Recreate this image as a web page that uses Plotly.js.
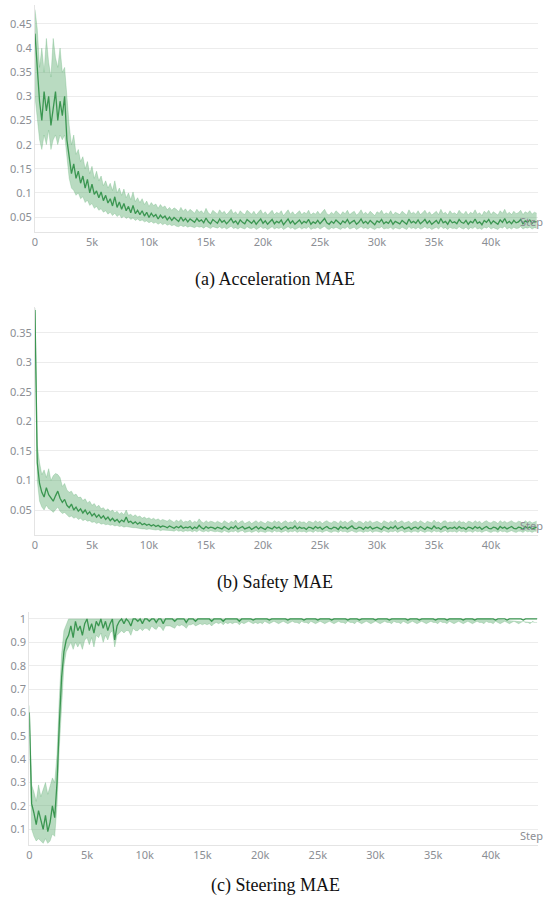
<!DOCTYPE html>
<html>
<head>
<meta charset="utf-8">
<script src="https://cdn.plot.ly/plotly-3.0.1.min.js"></script>
<style>html,body{margin:0;padding:0;background:#fff;}#chart{width:550px;height:905px;}</style>
</head>
<body>
<div id="chart"></div>
<script>
// Sampling step of the logged curves (training steps)
const STEP = 200;
const N_POINTS = 221;

// Panel captions
const captions = ["(a) Acceleration MAE", "(b) Safety MAE", "(c) Steering MAE"];

// Tick labels
const xTickVals = [0, 5000, 10000, 15000, 20000, 25000, 30000, 35000, 40000];
const xTickText = ["0", "5k", "10k", "15k", "20k", "25k", "30k", "35k", "40k"];
const yTickA = [0.05, 0.1, 0.15, 0.2, 0.25, 0.3, 0.35, 0.4, 0.45];
const yTickB = [0.05, 0.1, 0.15, 0.2, 0.25, 0.3, 0.35];
const yTickC = [0.1, 0.2, 0.3, 0.4, 0.5, 0.6, 0.7, 0.8, 0.9, 1];

// (a) Acceleration MAE
const accMean = [
0.43,0.35,0.29,0.25,0.31,0.27,0.30,0.24,0.28,0.31,
0.25,0.29,0.26,0.30,0.21,0.17,0.14,0.16,0.13,0.145,
0.12,0.135,0.11,0.128,0.10,0.118,0.097,0.104,0.09,0.102,
0.084,0.095,0.079,0.088,0.073,0.092,0.07,0.081,0.066,0.078,
0.063,0.072,0.059,0.074,0.057,0.064,0.055,0.063,0.052,0.06,
0.049,0.058,0.051,0.055,0.046,0.054,0.048,0.052,0.044,0.05,
0.043,0.049,0.045,0.041,0.05,0.042,0.047,0.04,0.046,0.043,
0.039,0.047,0.041,0.044,0.038,0.048,0.04,0.036,0.045,0.041,
0.037,0.046,0.039,0.043,0.036,0.041,0.047,0.038,0.042,0.035,
0.044,0.039,0.036,0.045,0.04,0.037,0.043,0.035,0.041,0.046,
0.037,0.042,0.035,0.039,0.045,0.036,0.041,0.038,0.044,0.034,
0.04,0.046,0.037,0.042,0.035,0.039,0.044,0.036,0.041,0.038,
0.045,0.035,0.04,0.037,0.043,0.036,0.042,0.047,0.038,0.035,
0.041,0.037,0.044,0.039,0.035,0.042,0.038,0.045,0.036,0.04,
0.043,0.035,0.039,0.046,0.037,0.041,0.036,0.043,0.038,0.034,
0.042,0.039,0.045,0.036,0.04,0.037,0.044,0.035,0.041,0.038,
0.036,0.043,0.039,0.035,0.046,0.038,0.041,0.037,0.044,0.036,
0.04,0.045,0.037,0.042,0.035,0.039,0.043,0.036,0.047,0.038,
0.041,0.035,0.044,0.038,0.04,0.036,0.045,0.039,0.037,0.043,
0.035,0.041,0.038,0.046,0.037,0.04,0.034,0.043,0.039,0.045,
0.036,0.042,0.038,0.035,0.044,0.039,0.047,0.037,0.041,0.036,
0.043,0.038,0.04,0.045,0.036,0.042,0.039,0.044,0.037,0.041,
0.04];
const accLow = [
0.30,0.25,0.21,0.19,0.22,0.2,0.23,0.19,0.21,0.22,
0.2,0.22,0.21,0.22,0.17,0.13,0.11,0.105,0.095,0.1,
0.088,0.092,0.08,0.085,0.074,0.078,0.068,0.072,0.064,0.067,
0.06,0.063,0.056,0.06,0.053,0.058,0.051,0.055,0.048,0.052,
0.047,0.05,0.045,0.048,0.043,0.046,0.042,0.044,0.04,0.042,
0.038,0.041,0.037,0.039,0.035,0.038,0.034,0.037,0.033,0.035,
0.032,0.034,0.031,0.03,0.033,0.03,0.032,0.029,0.031,0.03,
0.028,0.031,0.029,0.03,0.027,0.031,0.028,0.026,0.03,0.028,
0.027,0.03,0.026,0.029,0.025,0.028,0.031,0.026,0.028,0.025,
0.029,0.027,0.025,0.03,0.027,0.026,0.029,0.024,0.028,0.03,
0.026,0.028,0.024,0.027,0.03,0.025,0.028,0.026,0.029,0.024,
0.027,0.03,0.026,0.028,0.024,0.027,0.029,0.025,0.028,0.026,
0.03,0.024,0.027,0.026,0.029,0.025,0.028,0.031,0.026,0.024,
0.028,0.026,0.029,0.027,0.024,0.028,0.026,0.03,0.025,0.027,
0.029,0.024,0.027,0.03,0.026,0.028,0.025,0.029,0.026,0.024,
0.028,0.027,0.03,0.025,0.027,0.026,0.029,0.024,0.028,0.026,
0.025,0.029,0.027,0.024,0.03,0.026,0.028,0.025,0.029,0.025,
0.027,0.03,0.026,0.028,0.024,0.027,0.029,0.025,0.031,0.026,
0.028,0.024,0.029,0.026,0.027,0.025,0.03,0.027,0.025,0.029,
0.024,0.028,0.026,0.03,0.025,0.027,0.024,0.029,0.027,0.03,
0.025,0.028,0.026,0.024,0.029,0.027,0.031,0.025,0.028,0.025,
0.029,0.026,0.027,0.03,0.025,0.028,0.027,0.029,0.025,0.028,
0.027];
const accHigh = [
0.48,0.44,0.36,0.40,0.35,0.42,0.37,0.34,0.42,0.38,
0.36,0.40,0.35,0.36,0.30,0.24,0.20,0.22,0.18,0.19,
0.165,0.175,0.15,0.165,0.14,0.155,0.13,0.145,0.125,0.135,
0.115,0.125,0.11,0.12,0.105,0.125,0.1,0.11,0.095,0.108,
0.09,0.1,0.086,0.102,0.082,0.09,0.08,0.088,0.076,0.083,
0.072,0.08,0.074,0.077,0.068,0.076,0.07,0.073,0.065,0.07,
0.064,0.069,0.066,0.061,0.07,0.062,0.067,0.06,0.066,0.062,
0.058,0.066,0.06,0.063,0.057,0.068,0.059,0.055,0.064,0.06,
0.056,0.065,0.058,0.062,0.055,0.06,0.066,0.057,0.061,0.054,
0.063,0.058,0.055,0.064,0.059,0.056,0.062,0.054,0.06,0.065,
0.056,0.061,0.054,0.058,0.064,0.055,0.06,0.057,0.063,0.053,
0.059,0.065,0.056,0.061,0.054,0.058,0.063,0.055,0.06,0.057,
0.064,0.054,0.059,0.056,0.062,0.055,0.061,0.066,0.057,0.054,
0.06,0.056,0.063,0.058,0.054,0.061,0.057,0.064,0.055,0.059,
0.062,0.054,0.058,0.065,0.056,0.06,0.055,0.062,0.057,0.053,
0.061,0.058,0.064,0.055,0.059,0.056,0.063,0.054,0.06,0.057,
0.055,0.062,0.058,0.054,0.065,0.057,0.06,0.056,0.063,0.055,
0.059,0.064,0.056,0.061,0.054,0.058,0.062,0.055,0.066,0.057,
0.06,0.054,0.063,0.057,0.059,0.055,0.064,0.058,0.056,0.062,
0.054,0.06,0.057,0.065,0.056,0.059,0.053,0.062,0.058,0.064,
0.055,0.061,0.057,0.054,0.063,0.058,0.066,0.056,0.06,0.055,
0.062,0.057,0.059,0.064,0.055,0.061,0.058,0.063,0.056,0.06,
0.058];

// (b) Safety MAE
const safMean = [
0.389,0.13,0.095,0.08,0.072,0.088,0.076,0.07,0.065,0.074,
0.082,0.07,0.063,0.068,0.058,0.054,0.06,0.05,0.055,0.048,
0.052,0.045,0.05,0.043,0.047,0.04,0.044,0.038,0.042,0.036,
0.04,0.034,0.038,0.032,0.036,0.031,0.034,0.029,0.033,0.03,
0.038,0.029,0.031,0.027,0.03,0.026,0.029,0.025,0.027,0.024,
0.026,0.023,0.025,0.022,0.024,0.021,0.023,0.022,0.02,0.023,
0.021,0.019,0.022,0.02,0.023,0.019,0.021,0.02,0.022,0.018,
0.021,0.019,0.024,0.02,0.018,0.022,0.019,0.021,0.02,0.018,
0.021,0.019,0.018,0.022,0.02,0.017,0.021,0.019,0.023,0.018,
0.02,0.022,0.018,0.019,0.021,0.017,0.02,0.022,0.018,0.021,
0.019,0.017,0.021,0.02,0.018,0.022,0.019,0.021,0.017,0.02,
0.022,0.018,0.02,0.019,0.023,0.018,0.021,0.019,0.02,0.017,
0.021,0.02,0.018,0.022,0.019,0.021,0.017,0.02,0.022,0.019,
0.018,0.021,0.02,0.017,0.022,0.019,0.021,0.018,0.02,0.023,
0.019,0.018,0.021,0.02,0.017,0.021,0.019,0.022,0.018,0.02,
0.021,0.019,0.017,0.022,0.02,0.018,0.021,0.019,0.023,0.018,
0.02,0.022,0.018,0.019,0.021,0.017,0.02,0.021,0.018,0.022,
0.019,0.017,0.021,0.02,0.018,0.023,0.019,0.02,0.017,0.021,
0.022,0.018,0.02,0.019,0.021,0.018,0.022,0.019,0.02,0.017,
0.021,0.02,0.018,0.022,0.019,0.021,0.017,0.02,0.022,0.019,
0.018,0.021,0.02,0.017,0.022,0.019,0.021,0.018,0.02,0.022,
0.019,0.018,0.021,0.02,0.017,0.022,0.019,0.021,0.018,0.02,
0.021];
const safLow = [
0.385,0.1,0.065,0.055,0.05,0.058,0.052,0.05,0.046,0.05,
0.055,0.048,0.044,0.046,0.041,0.038,0.04,0.036,0.038,0.034,
0.036,0.032,0.034,0.031,0.032,0.029,0.03,0.027,0.029,0.026,
0.027,0.025,0.026,0.024,0.025,0.023,0.024,0.022,0.023,0.021,
0.022,0.021,0.021,0.02,0.02,0.019,0.019,0.018,0.018,0.017,
0.018,0.017,0.017,0.016,0.017,0.015,0.016,0.016,0.015,0.016,
0.015,0.014,0.016,0.014,0.015,0.013,0.015,0.014,0.015,0.013,
0.015,0.013,0.016,0.014,0.013,0.015,0.013,0.015,0.014,0.013,
0.014,0.013,0.012,0.015,0.014,0.012,0.014,0.013,0.015,0.012,
0.014,0.015,0.012,0.013,0.014,0.012,0.014,0.015,0.012,0.014,
0.013,0.012,0.014,0.014,0.012,0.015,0.013,0.014,0.012,0.014,
0.015,0.012,0.014,0.013,0.015,0.012,0.014,0.013,0.014,0.012,
0.014,0.014,0.012,0.015,0.013,0.014,0.012,0.014,0.015,0.013,
0.012,0.014,0.014,0.012,0.015,0.013,0.014,0.012,0.014,0.015,
0.013,0.012,0.014,0.014,0.012,0.014,0.013,0.015,0.012,0.014,
0.014,0.013,0.012,0.015,0.014,0.012,0.014,0.013,0.015,0.012,
0.014,0.015,0.012,0.013,0.014,0.012,0.014,0.014,0.012,0.015,
0.013,0.012,0.014,0.014,0.012,0.015,0.013,0.014,0.012,0.014,
0.015,0.012,0.014,0.013,0.014,0.012,0.015,0.013,0.014,0.012,
0.014,0.014,0.012,0.015,0.013,0.014,0.012,0.014,0.015,0.013,
0.012,0.014,0.014,0.012,0.015,0.013,0.014,0.012,0.014,0.015,
0.013,0.012,0.014,0.014,0.012,0.015,0.013,0.014,0.012,0.014,
0.014];
const safHigh = [
0.392,0.16,0.13,0.11,0.118,0.105,0.12,0.1,0.108,0.112,
0.11,0.105,0.09,0.095,0.084,0.08,0.082,0.075,0.077,0.071,
0.072,0.066,0.069,0.062,0.065,0.058,0.061,0.055,0.058,0.052,
0.054,0.049,0.052,0.047,0.05,0.045,0.048,0.043,0.046,0.042,
0.05,0.041,0.043,0.039,0.042,0.038,0.04,0.036,0.038,0.035,
0.037,0.034,0.036,0.033,0.035,0.032,0.034,0.033,0.031,0.034,
0.032,0.029,0.033,0.03,0.034,0.029,0.031,0.03,0.033,0.028,
0.031,0.029,0.035,0.03,0.028,0.032,0.029,0.031,0.03,0.028,
0.031,0.029,0.027,0.032,0.03,0.027,0.031,0.029,0.033,0.027,
0.03,0.032,0.027,0.029,0.031,0.027,0.03,0.032,0.028,0.031,
0.029,0.027,0.031,0.03,0.028,0.032,0.029,0.031,0.027,0.03,
0.032,0.028,0.03,0.029,0.033,0.027,0.031,0.029,0.03,0.027,
0.031,0.03,0.028,0.032,0.029,0.031,0.027,0.03,0.032,0.029,
0.028,0.031,0.03,0.027,0.032,0.029,0.031,0.028,0.03,0.033,
0.029,0.028,0.031,0.03,0.027,0.031,0.029,0.032,0.028,0.03,
0.031,0.029,0.027,0.032,0.03,0.028,0.031,0.029,0.033,0.028,
0.03,0.032,0.028,0.029,0.031,0.027,0.03,0.031,0.028,0.032,
0.029,0.027,0.031,0.03,0.028,0.033,0.029,0.03,0.027,0.031,
0.032,0.028,0.03,0.029,0.031,0.028,0.032,0.029,0.03,0.027,
0.031,0.03,0.028,0.032,0.029,0.031,0.027,0.03,0.032,0.029,
0.028,0.031,0.03,0.027,0.032,0.029,0.031,0.028,0.03,0.032,
0.029,0.028,0.031,0.03,0.027,0.032,0.029,0.031,0.028,0.03,
0.031];

// (c) Steering MAE
const steMean = [
0.60,0.21,0.17,0.12,0.18,0.14,0.10,0.16,0.09,0.13,
0.20,0.15,0.30,0.55,0.75,0.86,0.91,0.93,0.97,0.92,
0.99,0.95,0.97,0.93,0.98,1.0,0.95,0.98,0.94,0.99,
0.97,1.0,0.96,0.99,0.95,0.98,1.0,0.91,0.97,0.99,
1.0,0.98,1.0,0.99,0.97,1.0,1.0,0.99,1.0,0.98,
1.0,1.0,0.99,1.0,1.0,0.985,1.0,1.0,0.98,1.0,
1.0,1.0,1.0,0.99,1.0,1.0,1.0,1.0,0.985,1.0,
1.0,1.0,0.99,1.0,1.0,1.0,1.0,1.0,1.0,0.99,
1.0,1.0,1.0,1.0,0.99,1.0,1.0,1.0,1.0,1.0,
1.0,0.99,1.0,1.0,1.0,1.0,1.0,0.995,1.0,1.0,
1.0,1.0,1.0,1.0,0.995,1.0,1.0,1.0,1.0,1.0,
1.0,1.0,0.995,1.0,1.0,1.0,1.0,1.0,1.0,0.995,
1.0,1.0,1.0,1.0,1.0,0.995,1.0,1.0,1.0,1.0,
1.0,0.995,1.0,1.0,1.0,1.0,1.0,1.0,0.995,1.0,
1.0,1.0,1.0,0.995,1.0,1.0,1.0,1.0,1.0,1.0,
0.995,1.0,1.0,1.0,1.0,1.0,0.995,1.0,1.0,1.0,
1.0,1.0,1.0,1.0,0.995,1.0,1.0,1.0,1.0,0.995,
1.0,1.0,1.0,1.0,1.0,1.0,0.995,1.0,1.0,1.0,
1.0,0.995,1.0,1.0,1.0,1.0,1.0,1.0,0.995,1.0,
1.0,1.0,1.0,0.995,1.0,1.0,1.0,1.0,1.0,1.0,
1.0,1.0,0.995,1.0,1.0,1.0,1.0,0.995,1.0,1.0,
1.0,1.0,1.0,1.0,0.995,1.0,1.0,1.0,1.0,1.0,
1.0];
const steLow = [
0.57,0.1,0.07,0.05,0.06,0.05,0.04,0.06,0.04,0.05,
0.08,0.07,0.2,0.45,0.65,0.8,0.86,0.88,0.9,0.87,
0.9,0.88,0.9,0.87,0.91,0.92,0.89,0.92,0.88,0.93,
0.92,0.94,0.9,0.93,0.91,0.94,0.95,0.88,0.93,0.94,
0.95,0.94,0.95,0.95,0.93,0.96,0.95,0.95,0.96,0.95,
0.96,0.96,0.95,0.97,0.96,0.955,0.97,0.965,0.95,0.97,
0.97,0.97,0.965,0.96,0.975,0.97,0.975,0.97,0.96,0.975,
0.975,0.98,0.97,0.975,0.98,0.975,0.98,0.975,0.98,0.97,
0.98,0.985,0.98,0.985,0.975,0.985,0.98,0.985,0.98,0.985,
0.985,0.975,0.985,0.98,0.985,0.99,0.985,0.98,0.985,0.98,
0.985,0.98,0.99,0.985,0.98,0.985,0.99,0.985,0.98,0.985,
0.99,0.985,0.98,0.985,0.99,0.985,0.985,0.98,0.99,0.985,
0.985,0.98,0.99,0.985,0.98,0.985,0.99,0.985,0.98,0.985,
0.99,0.985,0.98,0.985,0.99,0.985,0.985,0.98,0.99,0.985,
0.985,0.98,0.99,0.985,0.98,0.985,0.99,0.985,0.98,0.985,
0.99,0.985,0.98,0.985,0.99,0.985,0.985,0.98,0.99,0.985,
0.985,0.98,0.99,0.985,0.98,0.985,0.99,0.985,0.98,0.985,
0.99,0.985,0.98,0.985,0.99,0.985,0.985,0.98,0.99,0.985,
0.985,0.98,0.99,0.985,0.98,0.985,0.99,0.985,0.98,0.985,
0.99,0.985,0.98,0.985,0.99,0.985,0.985,0.98,0.99,0.985,
0.985,0.98,0.99,0.985,0.98,0.985,0.99,0.985,0.98,0.985,
0.99,0.985,0.98,0.985,0.99,0.985,0.985,0.98,0.99,0.985,
0.985];
const steHigh = [
0.63,0.29,0.26,0.22,0.29,0.24,0.27,0.3,0.25,0.28,
0.32,0.3,0.42,0.66,0.85,0.95,0.98,1.0,1.0,1.0,
1,1,1,1,1,1,1,1,1,1, 1,1,1,1,1,1,1,1,1,1,
1,1,1,1,1,1,1,1,1,1, 1,1,1,1,1,1,1,1,1,1,
1,1,1,1,1,1,1,1,1,1, 1,1,1,1,1,1,1,1,1,1,
1,1,1,1,1,1,1,1,1,1, 1,1,1,1,1,1,1,1,1,1,
1,1,1,1,1,1,1,1,1,1, 1,1,1,1,1,1,1,1,1,1,
1,1,1,1,1,1,1,1,1,1, 1,1,1,1,1,1,1,1,1,1,
1,1,1,1,1,1,1,1,1,1, 1,1,1,1,1,1,1,1,1,1,
1,1,1,1,1,1,1,1,1,1, 1,1,1,1,1,1,1,1,1,1,
1,1,1,1,1,1,1,1,1,1, 1,1,1,1,1,1,1,1,1,1,
1];

const steps = [];
for (let i = 0; i < N_POINTS; i++) steps.push(i * STEP);

const LINE = '#3b9651';
const BAND = 'rgba(88,170,108,0.42)';
const TICKFONT = {family: 'Noto Sans, sans-serif', size: 11, color: '#8b8e94'};
const GRID = '#ececec';

function bandTraces(lo, hi, mean, xa, ya) {
  return [
    {x: steps, y: lo, xaxis: xa, yaxis: ya, type: 'scatter', mode: 'lines',
     line: {width: 0.5, color: 'rgba(88,170,108,0.5)'}, hoverinfo: 'skip', showlegend: false},
    {x: steps, y: hi, xaxis: xa, yaxis: ya, type: 'scatter', mode: 'lines',
     fill: 'tonexty', fillcolor: BAND, line: {width: 0.5, color: 'rgba(88,170,108,0.55)'},
     hoverinfo: 'skip', showlegend: false},
    {x: steps, y: mean, xaxis: xa, yaxis: ya, type: 'scatter', mode: 'lines',
     line: {width: 1.3, color: LINE}, showlegend: false}
  ];
}

const data = [].concat(
  bandTraces(accLow, accHigh, accMean, 'x', 'y'),
  bandTraces(safLow, safHigh, safMean, 'x2', 'y2'),
  bandTraces(steLow, steHigh, steMean, 'x3', 'y3')
);

function xAxis(domain, range, anchor) {
  return {domain: domain, range: range, anchor: anchor, tickvals: xTickVals, ticktext: xTickText,
    tickfont: TICKFONT, showgrid: false, zeroline: false, showline: true, linecolor: '#e4e4e4',
    linewidth: 1, ticks: '', fixedrange: true};
}
function yAxis(domain, range, anchor, vals) {
  return {domain: domain, range: range, anchor: anchor, tickvals: vals,
    ticktext: vals.map(v => String(v)), tickfont: TICKFONT,
    showgrid: true, gridcolor: GRID, gridwidth: 1, zeroline: false, showline: true,
    linecolor: '#e4e4e4', linewidth: 1, ticks: '', fixedrange: true};
}

const capFont = {family: 'Liberation Serif, serif', size: 18, color: '#111'};
const stepFont = {family: 'Noto Sans, sans-serif', size: 11, color: '#8b8e94'};

const layout = {
  width: 550, height: 905,
  margin: {l: 0, r: 0, t: 0, b: 0},
  paper_bgcolor: '#fff', plot_bgcolor: '#fff',
  showlegend: false,
  xaxis: xAxis([0.0636, 0.9782], [0, 44120], 'y'),
  yaxis: yAxis([0.7436, 0.9945], [0.0189, 0.4894], 'x', yTickA),
  xaxis2: xAxis([0.0636, 0.9782], [0, 44120], 'y2'),
  yaxis2: yAxis([0.4088, 0.6608], [0.0076, 0.394], 'x2', yTickB),
  xaxis3: xAxis([0.0533, 0.9782], [0, 44080], 'y3'),
  yaxis3: yAxis([0.0663, 0.3238], [0.033, 1.03], 'x3', yTickC),
  annotations: [
    {text: captions[0], xref: 'paper', yref: 'paper', x: 0.5, y: 1 - 279/905, xanchor: 'center', yanchor: 'middle', showarrow: false, font: capFont},
    {text: captions[1], xref: 'paper', yref: 'paper', x: 0.5, y: 1 - 582/905, xanchor: 'center', yanchor: 'middle', showarrow: false, font: capFont},
    {text: captions[2], xref: 'paper', yref: 'paper', x: 0.5, y: 1 - 885/905, xanchor: 'center', yanchor: 'middle', showarrow: false, font: capFont},
    {text: 'Step', xref: 'paper', yref: 'paper', x: 545/550, y: 1 - 222/905, xanchor: 'right', yanchor: 'middle', showarrow: false, font: stepFont},
    {text: 'Step', xref: 'paper', yref: 'paper', x: 545/550, y: 1 - 525/905, xanchor: 'right', yanchor: 'middle', showarrow: false, font: stepFont},
    {text: 'Step', xref: 'paper', yref: 'paper', x: 545/550, y: 1 - 835/905, xanchor: 'right', yanchor: 'middle', showarrow: false, font: stepFont}
  ]
};

Plotly.newPlot('chart', data, layout, {displayModeBar: false, staticPlot: true});
</script>
</body>
</html>
